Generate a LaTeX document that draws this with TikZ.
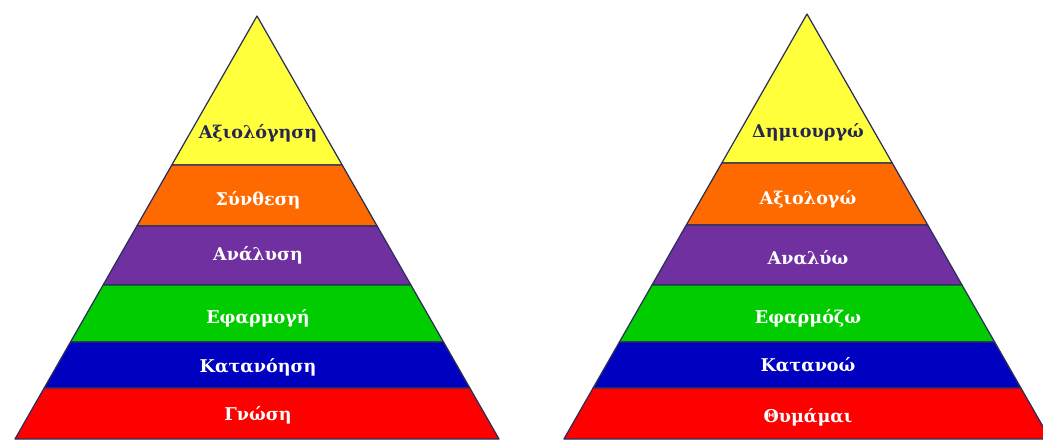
\documentclass[tikz,border=0pt]{standalone}
\usepackage{fontspec}
\setmainfont{DejaVu Serif}
\usetikzlibrary{positioning}

\definecolor{edgeblue}{HTML}{2A2F5A}
\definecolor{lvlyellow}{HTML}{FFFF3C}
\definecolor{lvlorange}{HTML}{FF6A00}
\definecolor{lvlpurple}{HTML}{7030A0}
\definecolor{lvlgreen}{HTML}{00CC00}
\definecolor{lvlblue}{HTML}{0000C0}
\definecolor{lvlred}{HTML}{FF0000}
\definecolor{darklabel}{HTML}{26264E}

\tikzset{
  band/.style={draw=edgeblue, line width=0.7pt, line join=round},
  lbl/.style={font=\fontsize{10}{12}\selectfont\bfseries, text=white, inner sep=1pt},
  toplbl/.style={lbl, text=darklabel}
}

\begin{document}
\begin{tikzpicture}[x=0.02cm, y=-0.02cm]
    \useasboundingbox (0,0) rectangle (1043,439);
    \clip (0,0) rectangle (1043,439);
    \fill[white] (0,0) rectangle (1043,439);

    % Left pyramid - Bloom (nouns)
    \filldraw[band, fill=lvlyellow] (257,16) -- (342.2,165) -- (171.8,165) -- cycle;
    \filldraw[band, fill=lvlorange] (171.8,165) -- (342.2,165) -- (377.1,226) -- (136.9,226) -- cycle;
    \filldraw[band, fill=lvlpurple] (136.9,226) -- (377.1,226) -- (410.9,285) -- (103.1,285) -- cycle;
    \filldraw[band, fill=lvlgreen] (103.1,285) -- (410.9,285) -- (443.5,342) -- (70.5,342) -- cycle;
    \filldraw[band, fill=lvlblue] (70.5,342) -- (443.5,342) -- (469.8,388) -- (44.2,388) -- cycle;
    \filldraw[band, fill=lvlred] (44.2,388) -- (469.8,388) -- (499,439) -- (15,439) -- cycle;

    \node[toplbl] (eval) at (258,133) {Αξιολόγηση};
    \node[lbl] (synth) at (258,200) {Σύνθεση};
    \node[lbl] (anal) at (258,255) {Ανάλυση};
    \node[lbl] (appl) at (258,318) {Εφαρμογή};
    \node[lbl] (comp) at (258,367) {Κατανόηση};
    \node[lbl] (know) at (258,415) {Γνώση};

    % Right pyramid - revised (verbs)
    \filldraw[band, fill=lvlyellow] (807,14) -- (892.2,163) -- (721.8,163) -- cycle;
    \filldraw[band, fill=lvlorange] (721.8,163) -- (892.2,163) -- (927.7,225) -- (686.3,225) -- cycle;
    \filldraw[band, fill=lvlpurple] (686.3,225) -- (927.7,225) -- (962,285) -- (652,285) -- cycle;
    \filldraw[band, fill=lvlgreen] (652,285) -- (962,285) -- (994.6,342) -- (619.4,342) -- cycle;
    \filldraw[band, fill=lvlblue] (619.4,342) -- (994.6,342) -- (1020.9,388) -- (593.1,388) -- cycle;
    \filldraw[band, fill=lvlred] (593.1,388) -- (1020.9,388) -- (1050.1,439) -- (563.9,439) -- cycle;

    \node[toplbl] (create) at (808,132) {Δημιουργώ};
    \node[lbl] (evaluate) at (808,199) {Αξιολογώ};
    \node[lbl] (analyse) at (808,258) {Αναλύω};
    \node[lbl] (apply) at (808,318) {Εφαρμόζω};
    \node[lbl] (understand) at (808,365) {Κατανοώ};
    \node[lbl] (remember) at (808,417) {Θυμάμαι};
\end{tikzpicture}
\end{document}
